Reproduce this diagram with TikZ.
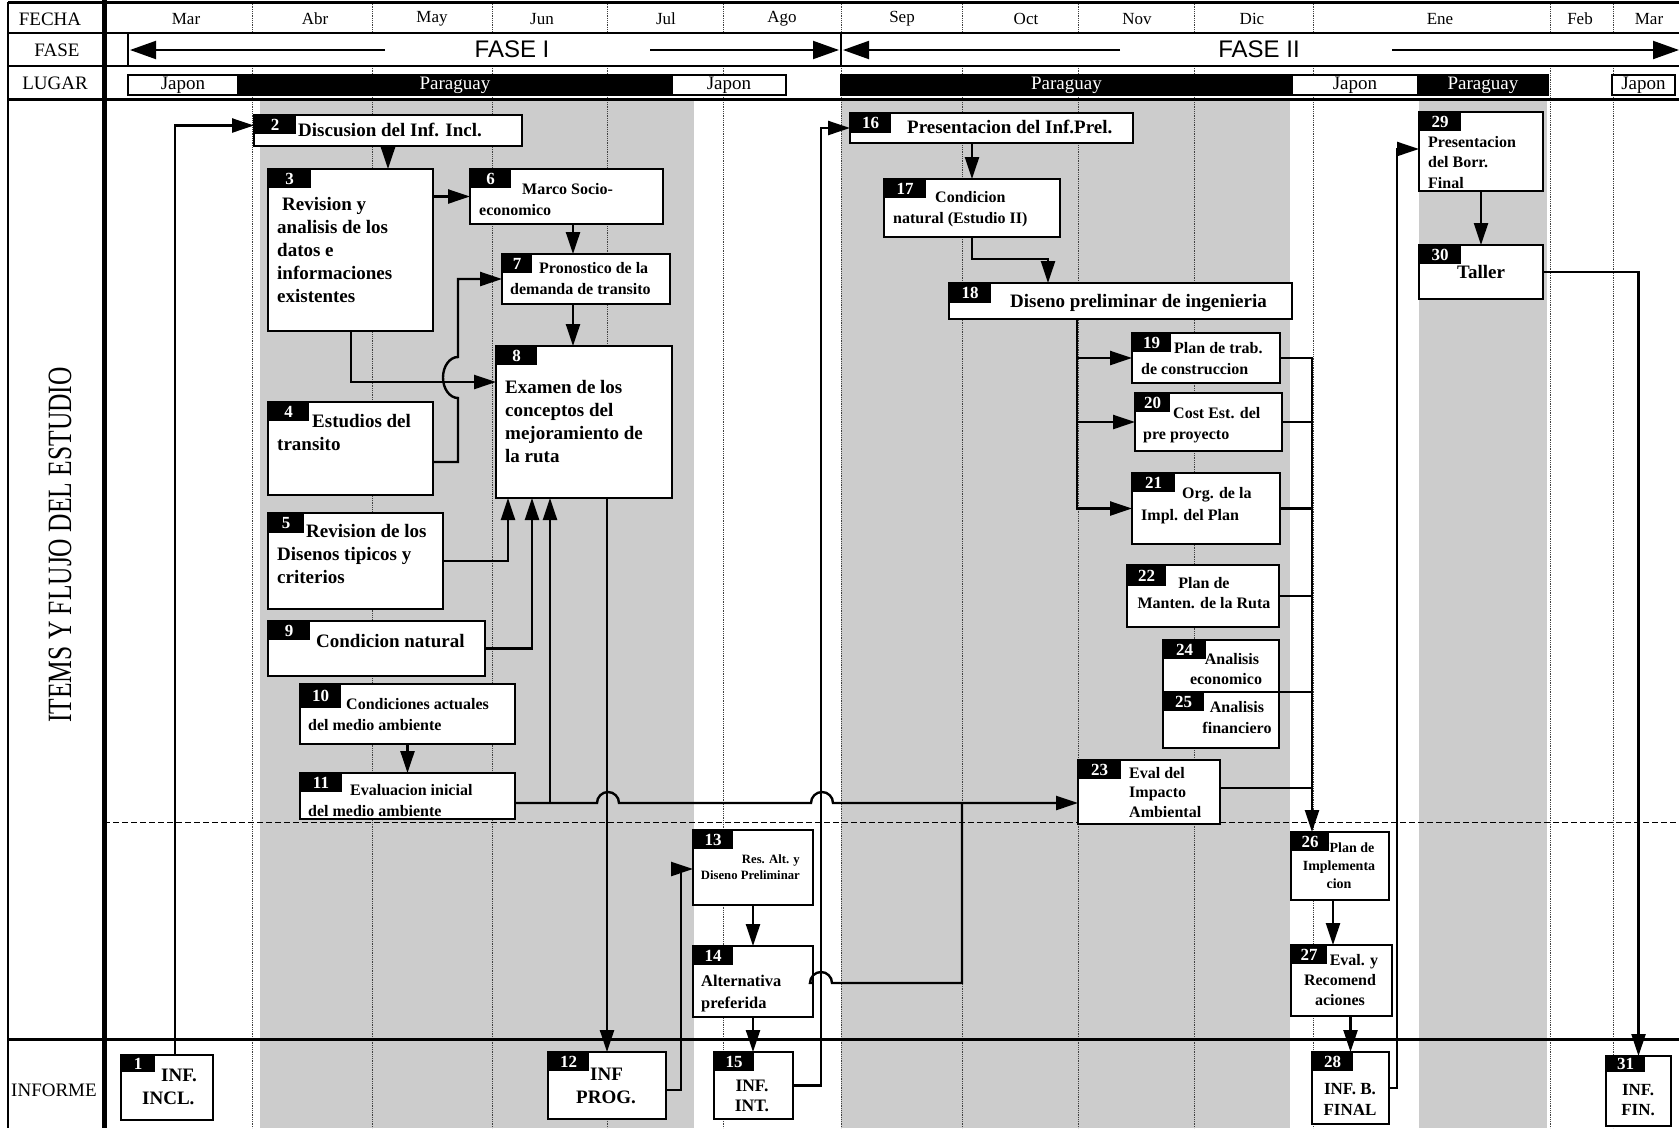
\documentclass[tikz,border=0pt]{standalone}
\usepackage{fontspec}
\setmainfont{Liberation Serif}
\newfontfamily\phasefont{Liberation Sans}
\usetikzlibrary{arrows.meta}

\tikzset{
  taskbox/.style={draw, fill=white, line width=2.5pt, inner sep=0pt, outer sep=0pt},
  tagbox/.style={fill=black, text=white, inner sep=0pt, outer sep=0pt, minimum width=41pt,
    minimum height=19pt, font=\fontsize{17}{17}\selectfont\bfseries},
  lbl/.style={inner sep=0pt, anchor=base west, align=left, font=\fontsize{19}{23}\selectfont\bfseries},
  lblm/.style={lbl, font=\fontsize{16}{20.5}\selectfont\bfseries},
  lblc/.style={lbl, anchor=base, align=center},
  flow/.style={line width=2.4pt, -{Triangle[length=22pt,width=14pt]}},
  link/.style={line width=2.4pt},
  phase/.style={line width=2pt, -{Triangle[length=26pt,width=18pt]}},
  monthline/.style={line width=0.8pt, densely dotted, black!75},
  hdr/.style={font=\fontsize{19}{19}\selectfont},
  place/.style={draw, line width=1.5pt, inner sep=0pt, minimum height=20pt, font=\fontsize{19}{19}\selectfont},
}

% box with its black number tag: [tag style]{name}{x1}{y1}{x2}{y2}{number}
\newcommand\itembox[7][]{%
  \node[taskbox, minimum width={#5-#3}, minimum height={#6-#4}, anchor=north west] (#2) at (#3,#4) {};
  \node[tagbox, #1, anchor=north west] (#2t) at (#2.north west) {#7};}

\begin{document}
\begin{tikzpicture}[x=1pt, y=-1pt]
  %%%%% START %%%%%
  \useasboundingbox (0,0) rectangle (1679,1128);
  \fill[white] (0,0) rectangle (1679,1128);

  % gray bands (Paraguay)
  \fill[black!20] (260,101) rectangle (694,1128);
  \fill[black!20] (841,101) rectangle (1290,1128);
  \fill[black!20] (1419,101) rectangle (1547,1128);

  % months
  \foreach \x in {252,372,492,607,723,841,962,1078,1194,1313,1550,1613}
    \draw[monthline] (\x,2) -- (\x,33) (\x,66) -- (\x,1128);

  % frame
  \draw[line width=3pt] (8,2) -- (1679,2);
  \draw[line width=1.5pt] (8,33) -- (1679,33) (8,66) -- (1679,66);
  \draw[line width=3pt] (8,99) -- (1679,99);
  \draw[line width=2pt] (8,2) -- (8,1128);
  \draw[line width=5pt] (104,0) -- (104,1128);
  \draw[line width=1.5pt] (128,33) -- (128,66) (841,33) -- (841,66);
  \draw[line width=1pt, dash pattern=on 6pt off 3pt] (104,822) -- (1679,822);
  \draw[line width=3pt] (8,1039) -- (1679,1039);

  % row labels
  \node[hdr] (fecha) at (50,19) {FECHA};
  \node[hdr] (fase) at (57,50) {FASE};
  \node[hdr] (lugar) at (55,83) {LUGAR};
  \node[hdr] (informe) at (54,1090) {INFORME};
  \node[rotate=90] (items) at (60,545)
    {\scalebox{0.75}[1]{\fontsize{34}{34}\selectfont ITEMS Y FLUJO DEL ESTUDIO}};

  \foreach \m/\x in {Mar/186, Abr/315, May/432, Jun/542, Jul/666, Ago/782, Sep/902,
      Oct/1026, Nov/1137, Dic/1252, Ene/1440, Feb/1580, Mar/1649}
    \node[font=\fontsize{17}{17}\selectfont] (m\x) at (\x,19) {\m};

  % phases
  \draw[phase] (385,50) -- (130,50);
  \node[font=\phasefont\fontsize{24}{24}\selectfont] (fase1) at (512,49) {FASE I};
  \draw[phase] (650,50) -- (839,50);
  \draw[phase] (1120,50) -- (843,50);
  \node[font=\phasefont\fontsize{24}{24}\selectfont] (fase2) at (1259,49) {FASE II};
  \draw[phase] (1392,50) -- (1679,50);

  % place
  \node[place, fill=white, minimum width=110] (lug1) at (183,85) {Japon};
  \node[place, fill=black, text=white, minimum width=434] (lug2) at (455,85) {Paraguay};
  \node[place, fill=white, minimum width=114] (lug3) at (729,85) {Japon};
  \node[place, fill=black, text=white, minimum width=451] (lug4) at (1066.5,85) {Paraguay};
  \node[place, fill=white, minimum width=126] (lug5) at (1355,85) {Japon};
  \node[place, fill=black, text=white, minimum width=130] (lug6) at (1483,85) {Paraguay};
  \node[place, fill=white, minimum width=63] (lug7) at (1643.5,85) {Japon};

  % items
  \itembox[minimum width=34pt, minimum height=17pt]{n1}{121}{1055}{213}{1120}{1}
  \itembox[minimum width=42pt]{n2}{254}{115}{522}{146}{2}
  \itembox[minimum width=43pt]{n3}{268}{169}{433}{331}{3}
  \itembox{n4}{268}{402}{433}{495}{4}
  \itembox[minimum width=36pt, minimum height=20pt]{n5}{268}{513}{443}{609}{5}
  \itembox{n6}{470}{169}{663}{224}{6}
  \itembox[minimum width=30pt]{n7}{502}{254}{670}{304}{7}
  \itembox{n8}{496}{346}{672}{498}{8}
  \itembox[minimum width=42pt]{n9}{268}{621}{485}{676}{9}
  \itembox[minimum height=24pt]{n10}{300}{684}{515}{744}{10}
  \itembox[minimum width=42pt]{n11}{300}{773}{515}{819}{11}
  \itembox{n12}{548}{1052}{666}{1119}{12}
  \itembox[minimum width=40pt]{n13}{693}{830}{813}{905}{13}
  \itembox[minimum width=40pt]{n14}{693}{946}{813}{1017}{14}
  \itembox[minimum width=40pt]{n15}{714}{1052}{793}{1119}{15}
  \itembox[minimum height=20pt]{n16}{850}{113}{1133}{143}{16}
  \itembox[minimum width=42pt]{n17}{884}{179}{1060}{237}{17}
  \itembox[minimum width=42pt, minimum height=20pt]{n18}{949}{283}{1292}{319}{18}
  \itembox[minimum width=39pt]{n19}{1132}{333}{1280}{383}{19}
  \itembox[minimum width=35pt]{n20}{1135}{393}{1282}{451}{20}
  \itembox[minimum width=43pt]{n21}{1132}{473}{1280}{544}{21}
  \itembox[minimum width=39pt, minimum height=21pt]{n22}{1127}{565}{1279}{627}{22}
  \itembox[minimum width=43pt]{n23}{1078}{760}{1220}{824}{23}
  \itembox[minimum width=43pt]{n24}{1163}{640}{1279}{692}{24}
  \itembox{n25}{1163}{692}{1279}{748}{25}
  \itembox[minimum width=38pt]{n26}{1291}{832}{1389}{900}{26}
  \itembox[minimum width=36pt]{n27}{1291}{945}{1392}{1016}{27}
  \itembox{n28}{1312}{1052}{1389}{1124}{28}
  \itembox[minimum width=42pt]{n29}{1419}{112}{1543}{191}{29}
  \itembox[minimum width=42pt]{n30}{1419}{245}{1543}{299}{30}
  \itembox[minimum width=39pt, minimum height=16pt]{n31}{1606}{1056}{1671}{1126}{31}

  % item texts (placed at the baseline of their last line)
  \node[lbl] (n1l) at (142,1104) {\hspace*{19pt}INF.\\INCL.};
  \node[lbl] (n2l) at (298,136) {Discusion del Inf. Incl.};
  \node[lbl] (n3l) at (277,302) {\hspace*{5pt}Revision y\\analisis de los\\datos e\\informaciones\\existentes};
  \node[lbl] (n4l) at (277,450) {\hspace*{35pt}Estudios del\\transito};
  \node[lbl] (n5l) at (277,583) {\hspace*{29pt}Revision de los\\Disenos tipicos y\\criterios};
  \node[lblm] (n6l) at (479,215) {\hspace*{43pt}Marco Socio-\\economico};
  \node[lblm] (n7l) at (510,294) {\hspace*{29pt}Pronostico de la\\demanda de transito};
  \node[lbl] (n8l) at (505,462) {Examen de los\\conceptos del\\mejoramiento de\\la ruta};
  \node[lbl] (n9l) at (316,647) {Condicion natural};
  \node[lblm] (n10l) at (308,730) {\hspace*{38pt}Condiciones actuales\\del medio ambiente};
  \node[lblm] (n11l) at (308,816) {\hspace*{42pt}Evaluacion inicial\\del medio ambiente};
  \node[lbl] (n12l) at (576,1103) {\hspace*{14pt}INF\\PROG.};
  \node[lbl, anchor=base east, align=right, font=\fontsize{12.7}{16}\selectfont\bfseries] (n13l)
    at (800,879) {Res. Alt. y\\Diseno Preliminar};
  \node[lblm, font=\fontsize{16.4}{22}\selectfont\bfseries] (n14l) at (701,1008) {Alternativa\\preferida};
  \node[lblc, font=\fontsize{17.5}{20}\selectfont\bfseries] (n15l) at (752,1111) {INF.\\INT.};
  \node[lbl] (n16l) at (907,133) {Presentacion del Inf.Prel.};
  \node[lblm] (n17l) at (893,223) {\hspace*{42pt}Condicion\\natural (Estudio II)};
  \node[lbl] (n18l) at (1010,307) {Diseno preliminar de ingenieria};
  \node[lblm] (n19l) at (1141,374) {\hspace*{33pt}Plan de trab.\\de construccion};
  \node[lblm] (n20l) at (1143,439) {\hspace*{30pt}Cost Est. del\\pre proyecto};
  \node[lblm, font=\fontsize{16}{22}\selectfont\bfseries] (n21l) at (1141,520) {\hspace*{41pt}Org. de la\\Impl. del Plan};
  \node[lblc, font=\fontsize{16}{20}\selectfont\bfseries] (n22l) at (1204,608) {Plan de\\Manten. de la Ruta};
  \node[lblc, font=\fontsize{16}{20}\selectfont\bfseries] (n24l) at (1226,684) {\hspace*{12pt}Analisis\\economico};
  \node[lblc, font=\fontsize{16}{21}\selectfont\bfseries] (n25l) at (1237,733) {Analisis\\financiero};
  \node[lblm, font=\fontsize{16}{19.5}\selectfont\bfseries] (n23l) at (1129,817) {Eval del\\Impacto\\Ambiental};
  \node[lblc, font=\fontsize{14}{18}\selectfont\bfseries] (n26l) at (1339,888) {\hspace*{26pt}Plan de\\Implementa\\cion};
  \node[lblc, font=\fontsize{16}{20}\selectfont\bfseries] (n27l) at (1340,1005) {\hspace*{28pt}Eval. y\\Recomend\\aciones};
  \node[lblc, font=\fontsize{17}{21}\selectfont\bfseries] (n28l) at (1350,1115) {INF. B.\\FINAL};
  \node[lblm] (n29l) at (1428,188) {Presentacion\\del Borr.\\Final};
  \node[lbl] (n30l) at (1457,278) {Taller};
  \node[lblc, font=\fontsize{17}{20}\selectfont\bfseries] (n31l) at (1638,1115) {INF.\\FIN.};

  % flow
  \coordinate (trunk) at (1077,0);
  \coordinate (bus) at (1312,0);
  \draw[flow] ([xshift=8pt]n1.north) |- ([yshift=5pt]n2.west);
  \draw[flow] (n2.south) -- (n2.south |- n3.north);
  \draw[flow] (n3.east |- n6.west) -- (n6.west);
  \draw[flow] (n6.south -| 573,0) -- (n7.north -| 573,0);
  \draw[flow] (n7.south -| 573,0) -- (n8.north -| 573,0);
  \draw[flow] (n3.south -| 351,0) |- (n8.west |- 0,382);
  \draw[flow] (n4.east |- 0,462) -| (458,398)
    arc[start angle=-90, end angle=-270, x radius=15pt, y radius=20.5pt] |- (n7.west);
  \draw[flow] (n5.east) -| (n8.south -| 508,0);
  \draw[flow] (n9.east) -| (n8.south -| 532,0);
  \draw[flow] (n11.east |- 0,803) -| (n8.south -| 550,0);
  \draw[flow] (n10.south) -- (n10.south |- n11.north);
  \draw[flow] (n11.east |- 0,803) -- (597,803) arc[start angle=180, end angle=0, radius=11pt]
    -- (811,803) arc[start angle=180, end angle=0, radius=11pt] -- (n23.west |- 0,803);
  \draw[flow] (n12.north |- n8.south) -- (n12.north);
  \draw[flow] (n12.east |- 0,1090) -| (681,869) -- (n13.west |- 0,869);
  \draw[flow] (n13.south) -- (n13.south |- n14.north);
  \draw[flow] (n14.south) -- (n14.south |- n15.north);
  \draw[link] (n14.east |- 0,983) -- (810,983) arc[start angle=180, end angle=0, radius=11pt] -| (962,803);
  \draw[flow] (n15.east) -| (821,128) -- (n16.west);
  \draw[flow] (n17.north |- n16.south) -- (n17.north);
  \draw[flow] (n17.south) |- (1048,259) -- (n18.north -| 1048,0);
  \draw[flow] (n18.south -| trunk) |- (n21.west);
  \draw[flow] (trunk |- n19.west) -- (n19.west);
  \draw[flow] (trunk |- n20.west) -- (n20.west);
  \draw[flow] (n19.east) -| (n26.north -| bus);
  \draw[link] (n20.east) -- (n20.east -| bus);
  \draw[link] (n21.east) -- (n21.east -| bus);
  \draw[link] (n22.east) -- (n22.east -| bus);
  \draw[link] (n24.south east) -- (n24.south east -| bus);
  \draw[link] (n23.east |- 0,788) -- (bus |- 0,788);
  \draw[flow] (n26.south -| 1333,0) -- (n27.north -| 1333,0);
  \draw[flow] (n28.north |- n27.south) -- (n28.north);
  \draw[flow] (n28.east) -| (1397,149) -- (n29.west |- 0,149);
  \draw[flow] (n29.south) -- (n29.south |- n30.north);
  \draw[flow] (n30.east) -| (n31.north);
  %%%%% END %%%%%
\end{tikzpicture}
\end{document}
